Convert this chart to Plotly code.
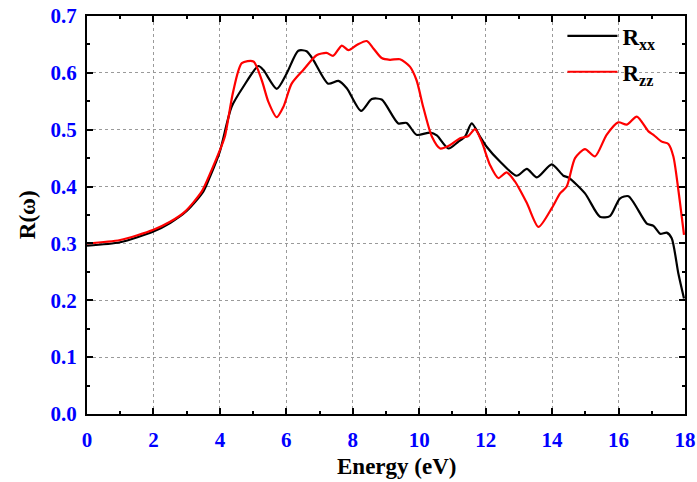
import plotly.graph_objects as go

energy_xx = [0, 1, 2, 2.5, 3, 3.5, 3.7, 4.0, 4.35, 4.71, 5.16, 5.31, 5.71, 6.01, 6.36, 6.61, 6.81,
             7.26, 7.57, 7.82, 8.25, 8.57, 8.87, 9.37, 9.62, 9.92, 10.33, 10.53, 10.88, 11.18,
             11.38, 11.58, 11.83, 12.03, 12.43, 12.93, 13.24, 13.54, 13.99, 14.34, 14.49, 14.99,
             15.44, 15.74, 16.04, 16.30, 16.85, 17.05, 17.25, 17.45, 17.60, 17.80, 17.97]
r_xx = [0.296, 0.302, 0.321, 0.336, 0.357, 0.391, 0.417, 0.462, 0.540, 0.576, 0.612, 0.605, 0.572,
        0.599, 0.639, 0.638, 0.623, 0.581, 0.586, 0.573, 0.533, 0.554, 0.553, 0.511, 0.512, 0.491,
        0.495, 0.490, 0.467, 0.479, 0.488, 0.511, 0.488, 0.470, 0.444, 0.419, 0.431, 0.416, 0.439,
        0.419, 0.416, 0.388, 0.347, 0.348, 0.379, 0.383, 0.335, 0.331, 0.317, 0.319, 0.309, 0.247,
        0.203]

energy_zz = [0, 1, 2, 2.5, 2.95, 3.45, 3.75, 4.0, 4.15, 4.40, 4.66, 5.01, 5.26, 5.46, 5.71, 5.91,
             6.16, 6.51, 6.91, 7.21, 7.41, 7.67, 7.87, 8.12, 8.42, 8.62, 8.87, 9.12, 9.42, 9.72,
             9.92, 10.12, 10.38, 10.63, 10.93, 11.23, 11.48, 11.68, 11.88, 12.13, 12.38, 12.63,
             12.88, 13.24, 13.59, 13.99, 14.24, 14.44, 14.69, 14.99, 15.29, 15.64, 15.99, 16.25,
             16.55, 16.90, 17.05, 17.30, 17.50, 17.65, 17.80, 17.97]
r_zz = [0.300, 0.306, 0.324, 0.338, 0.356, 0.391, 0.429, 0.464, 0.488, 0.567, 0.617, 0.620, 0.587,
        0.549, 0.522, 0.540, 0.581, 0.605, 0.631, 0.635, 0.630, 0.648, 0.640, 0.649, 0.656, 0.643,
        0.626, 0.623, 0.624, 0.611, 0.587, 0.540, 0.488, 0.467, 0.473, 0.485, 0.489, 0.501, 0.479,
        0.438, 0.415, 0.425, 0.409, 0.371, 0.329, 0.362, 0.388, 0.400, 0.450, 0.466, 0.453, 0.491,
        0.513, 0.509, 0.523, 0.497, 0.491, 0.479, 0.475, 0.453, 0.394, 0.315]

x_ticks = [0, 2, 4, 6, 8, 10, 12, 14, 16, 18]
y_ticks = [0.0, 0.1, 0.2, 0.3, 0.4, 0.5, 0.6, 0.7]

x_title = "Energy (eV)"
y_title = "R(ω)"

FONT = "Liberation Serif"

fig = go.Figure()
fig.add_trace(go.Scatter(x=energy_xx, y=r_xx, mode="lines", name="R<sub>xx</sub>", legendgroup="xx",
                         line=dict(color="black", width=2.2, shape="spline", smoothing=0.7)))
fig.add_trace(go.Scatter(x=energy_zz, y=r_zz, mode="lines", name="R<sub>zz</sub>", legendgroup="zz",
                         line=dict(color="red", width=2.2, shape="spline", smoothing=0.7)))

axis_common = dict(
    showline=True, linecolor="black", linewidth=2, mirror="ticks",
    ticks="inside", ticklen=6, tickwidth=1.5, tickcolor="black",
    showgrid=True, gridcolor="#9a9a9a", griddash="3px,3px", gridwidth=1,
    zeroline=False, automargin=False, ticklabeloverflow="allow",
    tickfont=dict(family=FONT, size=21, color="#0000ff", weight="bold"),
)

fig.update_xaxes(range=[0, 18], tickvals=x_ticks, ticktext=[str(v) for v in x_ticks],
                 minor=dict(dtick=1, ticks="inside", ticklen=3, tickcolor="black", showgrid=False),
                 ticklabelstandoff=6,
                 **axis_common)
fig.update_yaxes(range=[0, 0.7], tickvals=y_ticks, ticktext=[f"{v:.1f}" for v in y_ticks],
                 minor=dict(dtick=0.05, ticks="inside", ticklen=3, tickcolor="black", showgrid=False),
                 ticklabelstandoff=4,
                 **axis_common)

title_font = dict(family=FONT, size=23, color="black", weight="bold")
fig.add_annotation(text=x_title, xref="paper", yref="paper", x=0.517, y=-0.133,
                   xanchor="center", yanchor="middle", showarrow=False, font=title_font)
fig.add_annotation(text=y_title, xref="paper", yref="paper", x=-0.100, y=0.5, textangle=-90,
                   xanchor="center", yanchor="middle", showarrow=False, font=title_font)

fig.update_layout(
    width=697, height=482,
    margin=dict(l=87, r=12, t=16, b=68),
    plot_bgcolor="white", paper_bgcolor="white",
    showlegend=True,
    legend=dict(x=0.795, y=1.004, xanchor="left", yanchor="top", bgcolor="rgba(0,0,0,0)",
                font=dict(family=FONT, size=23, color="black", weight="bold"),
                itemwidth=50, tracegroupgap=3),
)

# remove the page's default 8px body margin so the figure fills the window exactly
fig.write_html("out.html", config={"displayModeBar": False},
               post_script="document.body.style.margin='0';")
